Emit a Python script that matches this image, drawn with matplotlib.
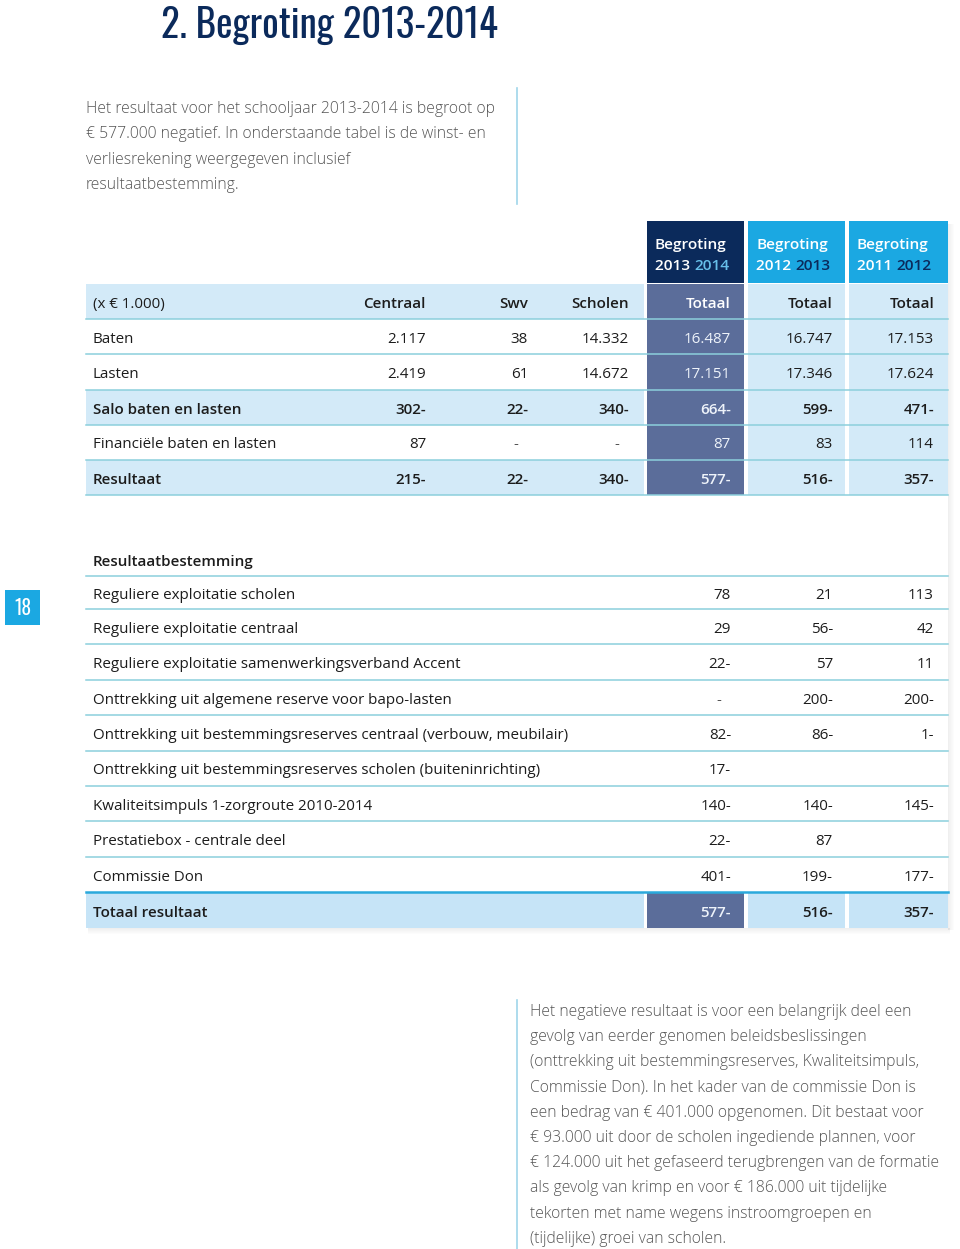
import matplotlib
matplotlib.use("Agg")
import matplotlib.pyplot as plt
from matplotlib.patches import Rectangle

# ---- data ----
title = "2. Begroting 2013-2014"
intro_lines = ["Het resultaat voor het schooljaar 2013-2014 is begroot op",
               "\u20ac 577.000 negatief. In onderstaande tabel is de winst- en",
               "verliesrekening weergegeven inclusief",
               "resultaatbestemming."]

unit_label = "(x \u20ac 1.000)"
col_labels = ["Centraal", "Swv", "Scholen", "Totaal", "Totaal", "Totaal"]
year_heads = [("2013", "2014"), ("2012", "2013"), ("2011", "2012")]

top_rows = ["Baten", "Lasten", "Salo baten en lasten", "Financi\u00eble baten en lasten", "Resultaat"]
top_bold = [False, False, True, False, True]
centraal = ["2.117", "2.419", "302-", "87", "215-"]
swv = ["38", "61", "22-", "-", "22-"]
scholen = ["14.332", "14.672", "340-", "-", "340-"]
totaal_1314 = ["16.487", "17.151", "664-", "87", "577-"]
totaal_1213 = ["16.747", "17.346", "599-", "83", "516-"]
totaal_1112 = ["17.153", "17.624", "471-", "114", "357-"]

best_title = "Resultaatbestemming"
best_rows = ["Reguliere exploitatie scholen",
             "Reguliere exploitatie centraal",
             "Reguliere exploitatie samenwerkingsverband Accent",
             "Onttrekking uit algemene reserve voor bapo-lasten",
             "Onttrekking uit bestemmingsreserves centraal (verbouw, meubilair)",
             "Onttrekking uit bestemmingsreserves scholen (buiteninrichting)",
             "Kwaliteitsimpuls 1-zorgroute 2010-2014",
             "Prestatiebox - centrale deel",
             "Commissie Don"]
best_1314 = ["78", "29", "22-", "-", "82-", "17-", "140-", "22-", "401-"]
best_1213 = ["21", "56-", "57", "200-", "86-", "", "140-", "87", "199-"]
best_1112 = ["113", "42", "11", "200-", "1-", "", "145-", "", "177-"]
total_label = "Totaal resultaat"
total_vals = ["577-", "516-", "357-"]

page_no = "18"
outro_lines = ["Het negatieve resultaat is voor een belangrijk deel een",
               "gevolg van eerder genomen beleidsbeslissingen",
               "(onttrekking uit bestemmingsreserves, Kwaliteitsimpuls,",
               "Commissie Don). In het kader van de commissie Don is",
               "een bedrag van \u20ac 401.000 opgenomen. Dit bestaat voor",
               "\u20ac 93.000 uit door de scholen ingediende plannen, voor",
               "\u20ac 124.000 uit het gefaseerd terugbrengen van de formatie",
               "als gevolg van krimp en voor \u20ac 186.000 uit tijdelijke",
               "tekorten met name wegens instroomgroepen en",
               "(tijdelijke) groei van scholen."]

# ---- style ----
NAVY = "#0b2a5b"
CYAN = "#1ba8e2"
SLATE = "#5b6d9a"
LIGHT = "#d3eaf8"
LINE = "#8ccfdc"
BLUELINE = "#2aa9dc"
TXT = "#1c1c1c"
GREY = "#555555"
FONT = ["Open Sans", "DejaVu Sans"]
COND = ["Oswald", "Barlow Condensed", "DejaVu Sans"]
FS = 10.9      # table text
HS = 11.1      # header text
PS = 11.3      # paragraph text
DY = 2.5       # optical offset for table text

fig = plt.figure(figsize=(9.6, 12.49), dpi=100)
ax = fig.add_axes([0, 0, 1, 1])
ax.set_xlim(0, 960)
ax.set_ylim(1249, 0)
ax.axis("off")

# title
ax.text(498, 25, title, ha="right", va="center", fontsize=28, color=NAVY,
        family=COND)

# intro paragraph
for i, line in enumerate(intro_lines):
    ax.text(86, 109 + i * 25.3, line, ha="left", va="center", fontsize=PS,
            color=GREY, family=FONT, fontweight="light")
ax.plot([517, 517], [88, 204], color="#9fd6ea", lw=1.2)

# column geometry
left, right = 86, 948
col_left = [647, 748, 849]
col_w = [97, 97, 99]
rights = [426, 528, 629, 731, 833, 934]

# shadow on right side and bottom
for k in range(6):
    a = 0.10 * (1 - k / 6)
    ax.add_patch(Rectangle((right + k, 224), 1, 706, color="#666666", alpha=a, lw=0))
for k in range(6):
    a = 0.10 * (1 - k / 6)
    ax.add_patch(Rectangle((left + 2, 928 + k), right - left, 1, color="#666666", alpha=a, lw=0))

# header cells
for j, (x0, (y1, y2)) in enumerate(zip(col_left, year_heads)):
    ax.add_patch(Rectangle((x0, 221), col_w[j], 62,
                           color=NAVY if j == 0 else CYAN, lw=0))
    cx = x0 + 8
    ax.text(cx, 245, "Begroting", ha="left", va="center", fontsize=HS,
            color="white", family=FONT, fontweight="semibold")
    c2 = "#67bfea" if j == 0 else NAVY
    t = ax.text(cx, 266, y1 + " ", ha="left", va="center", fontsize=HS,
                color="white", family=FONT, fontweight="semibold")
    ax.annotate(y2, xycoords=t, xy=(1, 0.5), va="center", ha="left",
                fontsize=HS, color=c2, family=FONT, fontweight="semibold")

# top table
top_h = 35.2
top_y0 = 284
n_top = len(top_rows) + 1
band = [True, False, False, True, False, True]
for i in range(n_top):
    y = top_y0 + i * top_h
    if band[i]:
        ax.add_patch(Rectangle((left, y), 644 - left, top_h, color=LIGHT, lw=0))
for j, x0 in enumerate(col_left):
    ax.add_patch(Rectangle((x0, top_y0), col_w[j], n_top * top_h,
                           color=SLATE if j == 0 else LIGHT, lw=0))
for i in range(1, n_top + 1):
    y = top_y0 + i * top_h
    ax.plot([left, right], [y, y], color=LINE, lw=1.1)

ax.text(93, top_y0 + top_h / 2 + DY, unit_label, ha="left", va="center",
        fontsize=FS, color=TXT, family=FONT)
for c, lab in enumerate(col_labels):
    ax.text(rights[c], top_y0 + top_h / 2 + DY, lab, ha="right", va="center",
            fontsize=FS, color="white" if c == 3 else TXT, family=FONT,
            fontweight="semibold")

cols = [centraal, swv, scholen, totaal_1314, totaal_1213, totaal_1112]
for i, lab in enumerate(top_rows):
    yc = top_y0 + (i + 1.5) * top_h + DY
    w = "semibold" if top_bold[i] else "normal"
    ax.text(93, yc, lab, ha="left", va="center", fontsize=FS, color=TXT,
            family=FONT, fontweight=w)
    for c, vals in enumerate(cols):
        v = vals[i]
        x = rights[c] - (10 if v == "-" else 0)
        col = "#eef3fa" if c == 3 else (GREY if v == "-" else TXT)
        ax.text(x, yc, v, ha="right", va="center", fontsize=FS, color=col,
                family=FONT, fontweight=w)

# bottom table
ax.text(93, 559 + DY, best_title, ha="left", va="center", fontsize=FS, color=TXT,
        family=FONT, fontweight="semibold")
ax.plot([left, right], [576, 576], color=LINE, lw=1.1)
b_h = 35.4
b_y0 = 609
n_b = len(best_rows)
row_top = [576] + [b_y0 + i * b_h for i in range(n_b)]
for i in range(n_b - 1):
    ax.plot([left, right], [row_top[i + 1]] * 2, color=LINE, lw=1.1)
bcols = [best_1314, best_1213, best_1112]
for i, lab in enumerate(best_rows):
    yc = (row_top[i] + row_top[i + 1]) / 2 + DY
    ax.text(93, yc, lab, ha="left", va="center", fontsize=FS, color=TXT,
            family=FONT)
    for c, vals in enumerate(bcols):
        v = vals[i]
        if not v:
            continue
        x = rights[c + 3] - (10 if v == "-" else 0)
        ax.text(x, yc, v, ha="right", va="center", fontsize=FS,
                color=GREY if v == "-" else TXT, family=FONT)

# total row
ty = row_top[-1]
ax.add_patch(Rectangle((left, ty), 644 - left, 928 - ty, color="#c6e4f7", lw=0))
for j, x0 in enumerate(col_left):
    ax.add_patch(Rectangle((x0, ty), col_w[j], 928 - ty,
                           color=SLATE if j == 0 else "#c6e4f7", lw=0))
ax.plot([left, right], [ty, ty], color=BLUELINE, lw=1.8)
tyc = (ty + 928) / 2 + DY
ax.text(93, tyc, total_label, ha="left", va="center", fontsize=FS, color=TXT,
        family=FONT, fontweight="semibold")
for c, v in enumerate(total_vals):
    ax.text(rights[c + 3], tyc, v, ha="right", va="center", fontsize=FS,
            color="#eef3fa" if c == 0 else TXT, family=FONT, fontweight="semibold")

# page number
ax.add_patch(Rectangle((5, 590), 35, 35, color=CYAN, lw=0))
ax.text(22.5, 607.5, page_no, ha="center", va="center", fontsize=14,
        color="white", family=COND)

# closing paragraph
ax.plot([517, 517], [1000, 1249], color="#9fd6ea", lw=1.2)
for i, line in enumerate(outro_lines):
    ax.text(530, 1012 + i * 25.2, line, ha="left", va="center", fontsize=PS,
            color=GREY, family=FONT, fontweight="light")

fig.savefig("out.png", dpi=100, facecolor="white")
